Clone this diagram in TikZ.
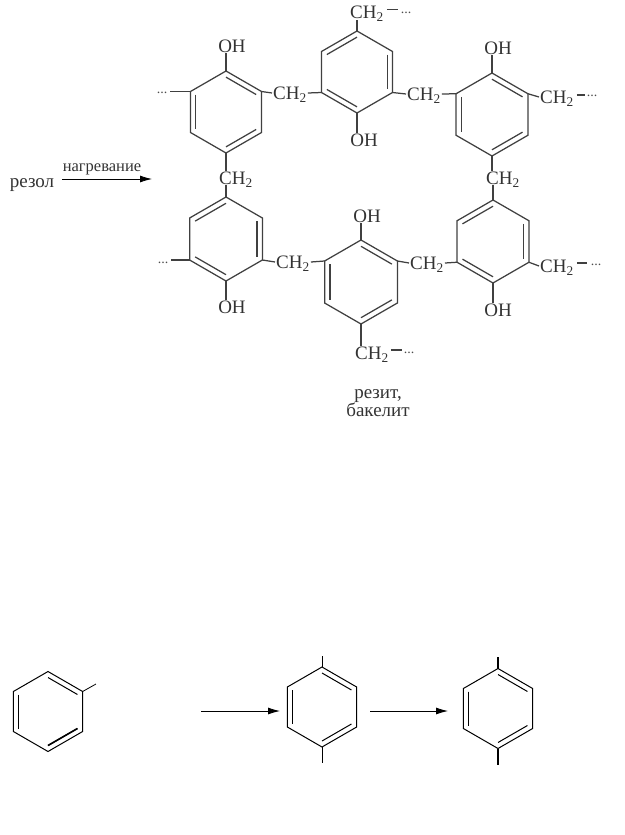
\documentclass[tikz,border=0pt]{standalone}
\usepackage{fontspec}
\setmainfont{Liberation Serif}
\usetikzlibrary{calc,arrows.meta}
\newcommand{\phring}[5]{%
\coordinate (#1o) at (#2,#3);
\coordinate (#1a) at (#2,#3-#4);
\coordinate (#1b) at ({#2+.866*#4},{#3-.5*#4});
\coordinate (#1c) at ({#2+.866*#4},{#3+.5*#4});
\coordinate (#1d) at (#2,#3+#4);
\coordinate (#1e) at ({#2-.866*#4},{#3+.5*#4});
\coordinate (#1f) at ({#2-.866*#4},{#3-.5*#4});
\draw (#1a) -- (#1b) -- (#1c) -- (#1d) -- (#1e) -- (#1f) -- cycle;
\foreach \p/\q in {#5}
  \draw ($(#1o)!.85!(#1\p)$) -- ($(#1o)!.85!(#1\q)$);
}
\newcommand{\chtwo}{CH\textsubscript{2}}
\tikzset{
  bond/.style={line width=1.25pt,draw=black!75},
  lab/.style={inner sep=1pt,text height=12.5pt,text depth=0pt,text=black!80,font=\fontsize{19}{21}\selectfont},
  ell/.style={inner ysep=0pt,inner xsep=3pt,text=black!70,font=\fontsize{14}{14}\selectfont},
  dash line/.style={line width=1.5pt,draw=black!75},
  react/.style={-{Latex[length=12pt,width=7pt]},line width=.8pt,black}
}
\begin{document}
\begin{tikzpicture}[x=1pt,y=-1pt]
\useasboundingbox (0,0) rectangle (624,835);
\begin{scope}[bond]
\phring{tl}{226}{112}{41}{f/e,a/b,c/d}
\phring{tm}{357}{72}{41}{f/a,b/c,e/d}
\phring{tr}{492}{114.5}{41.5}{f/e,a/b,c/d}
\phring{bl}{226}{239}{42}{f/a,b/c,e/d}
\phring{bm}{361}{282}{42}{f/e,a/b,c/d}
\phring{br}{493}{241.5}{41.5}{f/a,b/c,e/d}
\end{scope}

\node[lab] (tloh) at (232,46){OH};
\node[lab] (tmoh) at (364,140){OH};
\node[lab] (troh) at (498,48){OH};
\node[lab] (bloh) at (232,307){OH};
\node[lab] (bmoh) at (367,216){OH};
\node[lab] (broh) at (498,310){OH};

\node[lab] (tch1) at (290,93){\chtwo};
\node[lab] (tch2) at (424,94){\chtwo};
\node[lab] (tch3) at (557,97){\chtwo};
\node[lab] (tch4) at (367,12.5){\chtwo};
\node[lab] (bch1) at (293,262){\chtwo};
\node[lab] (bch2) at (427,263){\chtwo};
\node[lab] (bch3) at (557,266){\chtwo};
\node[lab] (bch4) at (372,353){\chtwo};
\node[lab] (lch) at (236,178){\chtwo};
\node[lab] (rch) at (503,178){\chtwo};

\node[ell] (tldots) at (162,93){...};
\node[ell] (bldots) at (163,263){...};
\node[ell] (trdots) at (592,96){...};
\node[ell] (brdots) at (596,265){...};
\node[ell] (tmdots) at (406,13){...};
\node[ell] (bmdots) at (409,353){...};

\draw[bond] (tla) -- (tla |- tloh.south);
\draw[bond] (tmd) -- (tmd |- tmoh.north);
\draw[bond] (tra) -- (tra |- troh.south);
\draw[bond] (bld) -- (bld |- bloh.north);
\draw[bond] (bma) -- (bma |- bmoh.south);
\draw[bond] (brd) -- (brd |- broh.north);

\draw[bond] (tlb) -- (tch1.west);
\draw[bond] (tch1.east) -- (tme);
\draw[bond] (tmc) -- (tch2.west);
\draw[bond] (tch2.east) -- (trf);
\draw[bond] (trb) -- (tch3.west);
\draw[bond] (tma) -- (tma |- tch4.south);
\draw[bond] (blc) -- (bch1.west);
\draw[bond] (bch1.east) -- (bmf);
\draw[bond] (bmb) -- (bch2.west);
\draw[bond] (bch2.east) -- (bre);
\draw[bond] (brc) -- (bch3.west);
\draw[bond] (bmd) -- (bmd |- bch4.north);
\draw[bond] (tld) -- (tld |- lch.north);
\draw[bond] (bla) -- (bla |- lch.south);
\draw[bond] (trd) -- (trd |- rch.north);
\draw[bond] (bra) -- (bra |- rch.south);

\draw[bond] (tldots.east |- tlf) -- (tlf);
\draw[bond] (bldots.east |- ble) -- (ble);
\draw[dash line] ($(tch3.east)+(2,-2)$) -- ($(trdots.west |- tch3.east)+(1,-2)$);
\draw[dash line] ($(bch3.east)+(2,-3)$) -- ($(brdots.west |- bch3.east)+(-1,-3)$);
\draw[dash line] ($(tch4.east)+(2,-3)$) -- ($(tmdots.west |- tch4.east)+(0,-3)$);
\draw[dash line] ($(bch4.east)+(1,-3)$) -- ($(bmdots.west |- bch4.east)+(1,-3)$);

\node[lab] (rezol) at (32,181){резол};
\node[lab,font=\fontsize{16.5}{18}\selectfont,text height=8pt] (heat) at (102,167){нагревание};
\coordinate (arrs) at (62,179);
\coordinate (arre) at (152,179);
\draw[react] (arrs) -- (arre);
\node[lab] (rezit) at (378,392){резит,};
\node[lab] (bakel) at (378,410){бакелит};

% lower row
\begin{scope}[line width=1pt,black]
\phring{p}{48}{711.5}{40}{f/e,a/b,c/d}
\phring{q}{322}{707}{40}{f/e,a/b,c/d}
\phring{s}{498}{708.5}{40}{f/e,a/b,c/d}
\end{scope}
\coordinate (pt) at (96,684);
\coordinate (qt) at (322,656);
\coordinate (qu) at (322,763);
\coordinate (st) at (498,657);
\coordinate (su) at (498,765);
\draw[line width=.8pt] (pb) -- (pt);
\draw[line width=1pt] (qa) -- (qt);
\draw[line width=1pt] (qd) -- (qu);
\draw[line width=1.6pt] (sa) -- (st);
\draw[line width=1.6pt] (sd) -- (su);
\draw[line width=1.6pt] (pb) -- (pc);
\draw[line width=1.6pt] ($(po)!.85!(pc)$) -- ($(po)!.85!(pd)$);
\draw[line width=1.6pt] ($(so)!.85!(sf)$) -- ($(so)!.85!(se)$);
\coordinate (a1s) at (201,711);
\coordinate (a1e) at (280,711);
\coordinate (a2s) at (370,711);
\coordinate (a2e) at (448,711);
\draw[react] (a1s) -- (a1e);
\draw[react] (a2s) -- (a2e);
\end{tikzpicture}
\end{document}
